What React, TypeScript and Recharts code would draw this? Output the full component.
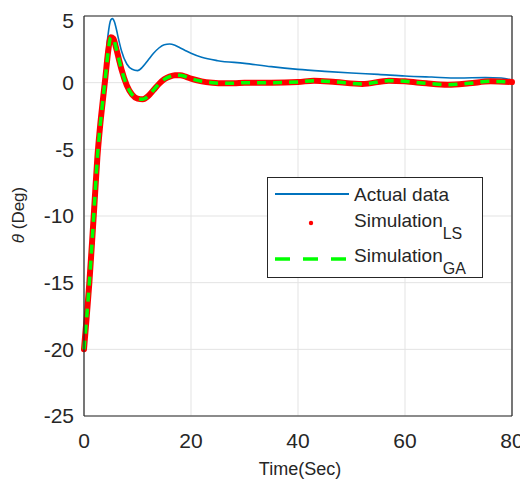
import React from 'react';
import { LineChart, Line, XAxis, YAxis, CartesianGrid, ReferenceLine, Legend } from 'recharts';

const actualTime = [0, 1, 2, 3, 3.5, 4, 4.5, 5, 5.3, 5.7, 6, 6.5, 7, 8, 9, 10, 11, 12, 13, 14, 15, 16, 17, 18, 19, 20, 22, 25, 30, 35, 40, 45, 50, 55, 60, 65, 70, 75, 78, 80];
const actualValues = [-20, -15.0, -8.0, -2.8, -0.9, 1.5, 3.6, 4.7, 4.8, 4.55, 4.1, 3.2, 2.4, 1.4, 1.0, 0.9, 1.2, 1.7, 2.2, 2.6, 2.85, 2.9, 2.8, 2.6, 2.4, 2.2, 1.9, 1.65, 1.45, 1.2, 1.0, 0.85, 0.72, 0.62, 0.5, 0.42, 0.35, 0.38, 0.35, 0.2];

const simTime = [0, 0.5, 1, 1.5, 2, 2.5, 3, 3.5, 4, 4.5, 5, 5.5, 6, 6.5, 7, 8, 9, 10, 11, 12, 13, 14, 15, 16, 17, 18, 19, 20, 22, 24, 26, 28, 30, 35, 40, 43, 47, 52, 57, 60, 64, 68, 72, 76, 80];
const simLS = [-20, -17.6, -15.0, -12.0, -8.8, -5.6, -3.3, -1.4, 0.4, 2.3, 3.4, 3.3, 2.6, 1.8, 1.0, -0.2, -0.9, -1.2, -1.25, -1.0, -0.55, -0.1, 0.25, 0.45, 0.55, 0.55, 0.45, 0.3, 0.1, 0.0, -0.05, -0.05, 0.0, 0.0, 0.05, 0.15, 0.05, -0.1, 0.15, 0.1, -0.05, -0.15, -0.05, 0.1, 0.05];
const simGA = [-20, -17.6, -15.0, -12.0, -8.8, -5.6, -3.3, -1.4, 0.4, 2.3, 3.4, 3.3, 2.6, 1.8, 1.0, -0.2, -0.9, -1.2, -1.25, -1.0, -0.55, -0.1, 0.25, 0.45, 0.55, 0.55, 0.45, 0.3, 0.1, 0.0, -0.05, -0.05, 0.0, 0.0, 0.05, 0.15, 0.05, -0.1, 0.15, 0.1, -0.05, -0.15, -0.05, 0.1, 0.05];

const xTicks = [0, 20, 40, 60, 80];
const yTicks = [-25, -20, -15, -10, -5, 0, 5];

const actualData = actualTime.map((t, i) => ({ t, v: actualValues[i] }));
const simData = simTime.map((t, i) => ({ t, ls: simLS[i], ga: simGA[i] }));

const FONT = 'Liberation Sans, Arial, sans-serif';
const TEXT = '#262626';

const LegendBox = () => (
  <svg width={216} height={101} style={{ display: 'block' }}>
    <rect x={0.5} y={0.5} width={215} height={100} fill="#fff" stroke="#262626" strokeWidth={1} />
    <line x1={8} y1={17} x2={82} y2={17} stroke="#0072BD" strokeWidth={2} />
    <text x={87} y={24} fontFamily={FONT} fontSize={19} fill={TEXT}>Actual data</text>
    <circle cx={44} cy={46} r={2.2} fill="#ff0000" />
    <text x={87} y={50} fontFamily={FONT} fontSize={19} fill={TEXT}>
      Simulation<tspan dy={12} fontSize={16}>LS</tspan>
    </text>
    <line x1={8} y1={82} x2={82} y2={82} stroke="#00ff00" strokeWidth={3.5} strokeDasharray="15 13" />
    <text x={87} y={85} fontFamily={FONT} fontSize={19} fill={TEXT}>
      Simulation<tspan dy={12} fontSize={16}>GA</tspan>
    </text>
  </svg>
);

export default function App() {
  return (
    <LineChart width={520} height={472} margin={{ top: 8, right: 16, left: 0, bottom: 0 }}>
      <CartesianGrid stroke="#e3e3e3" strokeWidth={1} horizontalValues={yTicks} verticalValues={xTicks} />
      <XAxis
        dataKey="t"
        type="number"
        domain={[0, 80]}
        ticks={xTicks}
        allowDuplicatedCategory={false}
        height={64}
        tickLine={false}
        tickSize={0}
        tickMargin={17}
        axisLine={{ stroke: '#262626', strokeWidth: 1.2 }}
        tick={{ fontSize: 21, fill: TEXT, fontFamily: FONT }}
        label={{
          content: (props: any) => {
            const vb = props.viewBox || { x: 76, y: 403, width: 428 };
            return (
              <text x={vb.x + vb.width / 2 + 2} y={vb.y + 59} textAnchor="middle" fontFamily={FONT} fontSize={18} fill={TEXT}>
                Time(Sec)
              </text>
            );
          },
        }}
      />
      <YAxis
        type="number"
        domain={[-25, 5]}
        ticks={yTicks}
        width={76}
        tickLine={false}
        tickSize={0}
        tickMargin={10}
        axisLine={{ stroke: '#262626', strokeWidth: 1.2 }}
        tick={{ fontSize: 21, fill: TEXT, fontFamily: FONT }}
        label={{
          content: (props: any) => {
            const vb = props.viewBox || { x: 0, y: 8, height: 395 };
            const cx = vb.x + 10;
            const cy = vb.y + vb.height / 2 - 1;
            return (
              <text x={cx} y={cy} textAnchor="middle" dominantBaseline="central" transform={`rotate(-90 ${cx} ${cy})`} fontFamily={FONT} fontSize={17} fill={TEXT}>
                <tspan fontStyle="italic">θ</tspan> (Deg)
              </text>
            );
          },
        }}
      />
      <ReferenceLine y={5} stroke="#262626" strokeWidth={1.2} ifOverflow="extendDomain" />
      <ReferenceLine x={80} stroke="#262626" strokeWidth={1.2} ifOverflow="extendDomain" />
      <Line data={actualData} dataKey="v" stroke="#0072BD" strokeWidth={1.6} dot={false} isAnimationActive={false} type="monotone" />
      <Line data={simData} dataKey="ls" stroke="#ff0000" strokeWidth={6} dot={false} isAnimationActive={false} type="monotone" strokeLinecap="round" />
      <Line data={simData} dataKey="ga" stroke="#00ff00" strokeWidth={3.5} strokeDasharray="9 7" dot={false} isAnimationActive={false} type="monotone" />
      <Legend
        layout="horizontal"
        verticalAlign="middle"
        align="center"
        content={() => <LegendBox />}
        wrapperStyle={{ left: 259, top: 169, width: 216, height: 101 }}
      />
    </LineChart>
  );
}
